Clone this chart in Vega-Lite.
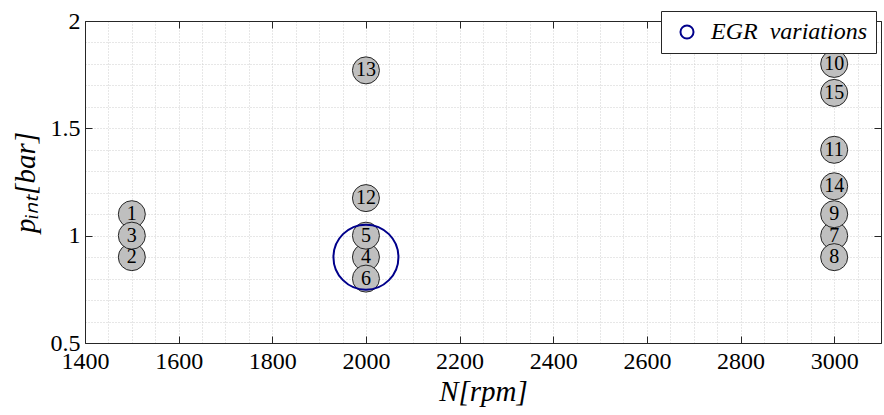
{
  "$schema": "https://vega.github.io/schema/vega-lite/v6.json",
  "width": 796,
  "height": 322,
  "autosize": {"type": "none"},
  "padding": {"left": 85, "top": 21, "right": 3, "bottom": 72},
  "background": "white",
  "config": {
    "view": {"stroke": null},
    "axis": {
      "domainColor": "#262626",
      "domainWidth": 1,
      "tickColor": "#262626",
      "tickWidth": 1,
      "labelFont": "Liberation Serif",
      "labelFontSize": 24,
      "labelColor": "black",
      "titleFont": "Liberation Serif",
      "titleFontStyle": "italic",
      "titleFontWeight": "normal",
      "titleFontSize": 29,
      "titleColor": "black",
      "gridColor": "#cfcfcf",
      "gridDash": [1, 2],
      "gridWidth": 1
    }
  },
  "datasets": {
    "pts": [
      {"N": 1500, "p": 1.1, "id": "1"},
      {"N": 1500, "p": 0.9, "id": "2"},
      {"N": 1500, "p": 1.0, "id": "3"},
      {"N": 2000, "p": 0.9, "id": "4"},
      {"N": 2000, "p": 1.0, "id": "5"},
      {"N": 2000, "p": 0.8, "id": "6"},
      {"N": 3000, "p": 1.0, "id": "7"},
      {"N": 3000, "p": 0.9, "id": "8"},
      {"N": 3000, "p": 1.1, "id": "9"},
      {"N": 3000, "p": 1.8, "id": "10"},
      {"N": 3000, "p": 1.4, "id": "11"},
      {"N": 2000, "p": 1.175, "id": "12"},
      {"N": 2000, "p": 1.77, "id": "13"},
      {"N": 3000, "p": 1.23, "id": "14"},
      {"N": 3000, "p": 1.665, "id": "15"}
    ],
    "egr": [{"N": 2000, "p": 0.9, "series": "EGR\u00a0\u00a0variations"}]
  },
  "layer": [
    {
      "data": {"name": "pts"},
      "mark": {"type": "point", "shape": "circle", "filled": true, "size": 729, "fill": "#bfbfbf", "stroke": "#262626", "strokeWidth": 1, "opacity": 1},
      "encoding": {
        "x": {
          "field": "N", "type": "quantitative",
          "scale": {"domain": [1400, 3100], "nice": false, "zero": false},
          "axis": {
            "orient": "bottom",
            "values": [1400,1450,1500,1550,1600,1650,1700,1750,1800,1850,1900,1950,2000,2050,2100,2150,2200,2250,2300,2350,2400,2450,2500,2550,2600,2650,2700,2750,2800,2850,2900,2950,3000,3050,3100],
            "format": "d",
            "labelExpr": "datum.value % 200 === 0 ? datum.label : ''",
            "tickOpacity": {"condition": {"test": "datum.value % 200 === 0", "value": 1}, "value": 0},
            "tickSize": -7,
            "labelPadding": 13,
            "labelOverlap": false,
            "labelFlush": false,
            "grid": true,
            "title": "N[rpm]",
            "titlePadding": 4
          }
        },
        "y": {
          "field": "p", "type": "quantitative",
          "scale": {"domain": [0.5, 2], "nice": false, "zero": false},
          "axis": {
            "orient": "left",
            "values": [0.5,0.6,0.7,0.8,0.9,1,1.1,1.2,1.3,1.4,1.5,1.6,1.7,1.8,1.9,2],
            "format": "~g",
            "labelExpr": "abs(datum.value*2 - round(datum.value*2)) < 0.001 ? datum.label : ''",
            "tickOpacity": {"condition": {"test": "abs(datum.value*2 - round(datum.value*2)) < 0.001", "value": 1}, "value": 0},
            "tickSize": -7,
            "labelPadding": 12,
            "labelOverlap": false,
            "labelFlush": false,
            "grid": true,
            "title": "pᵢₙₜ[bar]",
            "titlePadding": 10
          }
        }
      }
    },
    {
      "data": {"name": "pts"},
      "mark": {"type": "text", "font": "Liberation Serif", "fontSize": 20, "baseline": "middle", "align": "center", "color": "black"},
      "encoding": {
        "x": {"field": "N", "type": "quantitative", "axis": null},
        "y": {"field": "p", "type": "quantitative", "axis": null},
        "text": {"field": "id"}
      }
    },
    {
      "data": {"name": "egr"},
      "mark": {"type": "point", "shape": "circle", "filled": false, "size": 4225, "strokeWidth": 2, "opacity": 1},
      "encoding": {
        "x": {
          "field": "N", "type": "quantitative",
          "axis": {"orient": "top", "values": [1400,1600,1800,2000,2200,2400,2600,2800,3000], "labels": false, "tickSize": -7, "grid": false, "title": null}
        },
        "y": {
          "field": "p", "type": "quantitative",
          "axis": {"orient": "right", "values": [0.5, 1, 1.5, 2], "labels": false, "tickSize": -7, "grid": false, "title": null}
        },
        "color": {
          "field": "series", "type": "nominal",
          "scale": {"range": ["#00008b"]},
          "legend": {
            "orient": "none",
            "legendX": 576,
            "legendY": -10,
            "title": null,
            "labelFont": "Liberation Serif",
            "labelFontStyle": "italic",
            "labelFontSize": 24,
            "labelColor": "black",
            "labelOffset": 12,
            "symbolType": "circle",
            "symbolSize": 170,
            "symbolStrokeWidth": 2,
            "symbolOffset": 5,
            "strokeColor": "#262626",
            "fillColor": "white",
            "padding": 9
          }
        }
      }
    }
  ],
  "resolve": {"axis": {"x": "independent", "y": "independent"}}
}
